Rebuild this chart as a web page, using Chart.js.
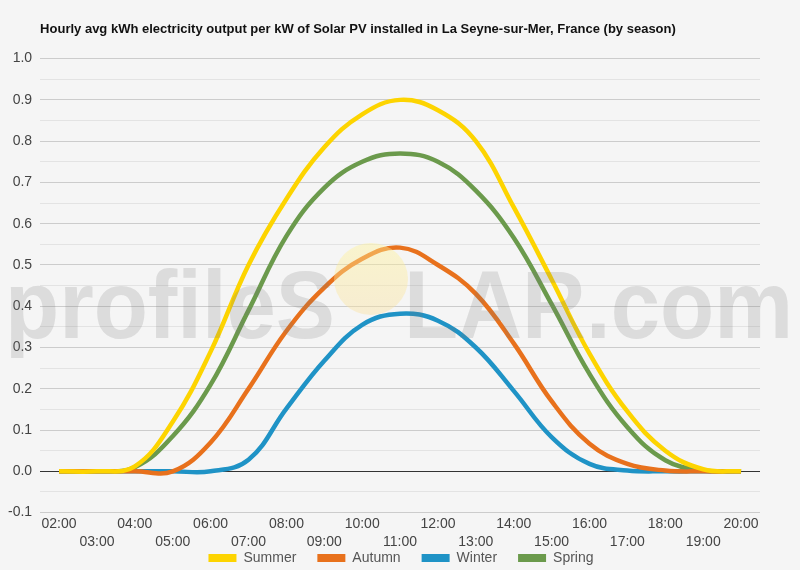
<!DOCTYPE html>
<html>
<head>
<meta charset="utf-8">
<script src="https://cdn.jsdelivr.net/npm/chart.js@4/dist/chart.umd.min.js"></script>
<style>
html,body{margin:0;padding:0;background:#f5f5f5}
#wrap{width:800px;height:570px}
</style>
</head>
<body>
<div id="wrap"><canvas id="solarChart" width="800" height="570"></canvas></div>
<script>
// hours on the x axis
const hours = ["02:00","03:00","04:00","05:00","06:00","07:00","08:00","09:00","10:00","11:00","12:00","13:00","14:00","15:00","16:00","17:00","18:00","19:00","20:00"]

// kWh per kW
const summer = [0,0,0.012,0.12,0.29,0.5,0.66,0.785,0.865,0.9,0.875,0.8,0.64,0.465,0.285,0.145,0.05,0.005,0]
const autumn = [0,0,0,0,0.07,0.2,0.34,0.445,0.515,0.542,0.5,0.43,0.31,0.17,0.067,0.018,0.002,0,0]
const winter = [0,0,0,0,0,0.028,0.152,0.268,0.355,0.382,0.365,0.3,0.195,0.083,0.018,0.002,0,0,0]
const spring = [0,0,0.01,0.085,0.21,0.39,0.57,0.687,0.75,0.77,0.75,0.68,0.566,0.405,0.236,0.107,0.027,0.002,0]

const seasonNames = ["Summer","Autumn","Winter","Spring"]
const seasonColors = ["#fdd400","#e8711c","#1f93c6","#6b9a4c"]

const FONT = "'Liberation Sans', Arial, sans-serif"

// profileSOLAR.com mark over the plot
const watermark = {
id:"watermark",
afterDatasetsDraw(chart){
let ctx=chart.ctx
ctx.save()
ctx.font="bold 96px "+FONT
let part1="profileS", part2="LAR.com"
let w1=ctx.measureText(part1).width
let oW=ctx.measureText("O").width
let w2=ctx.measureText(part2).width
let sx=788/(w1+oW+w2)
ctx.translate(5,312)
ctx.scale(sx,1)
ctx.fillStyle="rgba(120,120,120,0.2)"
ctx.fillText(part1,0,0)
ctx.fillText(part2,w1+oW,0)
ctx.restore()
ctx.save()
let g=ctx.createLinearGradient(0,243,0,315)
g.addColorStop(0,"rgba(255,243,150,0.42)")
g.addColorStop(1,"rgba(250,225,160,0.42)")
ctx.fillStyle=g
ctx.beginPath()
ctx.ellipse(371,279,37,36,0,0,Math.PI*2)
ctx.fill()
ctx.restore()
}
}

// wide gaps between legend items but a short legend box
const legendSpacing = {
id:"legendSpacing",
afterInit(chart){
let lg=chart.legend
let fit=lg.fit
lg.fit=function(){fit.call(this); this.height=17}
let draw=lg.draw
lg.draw=function(){
let t=this.top, l=this.left, r=this.right
this.top=t-23
this.left=l+21
this.right=r+21
draw.call(this)
this.top=t
this.left=l
this.right=r
}
}
}

const datasets = [summer,autumn,winter,spring].map((d,i)=>({
label:seasonNames[i],
data:d,
borderColor:seasonColors[i],
backgroundColor:seasonColors[i],
borderWidth:4.5,
pointRadius:0,
tension:0.4,
fill:false
}))

new Chart(document.getElementById("solarChart"),{
type:"line",
data:{labels:hours,datasets:datasets},
plugins:[watermark,legendSpacing],
options:{
responsive:false,
animation:false,
layout:{padding:{left:0,right:40,top:8,bottom:0}},
plugins:{
title:{
display:true,
text:"Hourly avg kWh electricity output per kW of Solar PV installed in La Seyne-sur-Mer, France (by season)",
align:"start",
fullSize:false,
color:"#111",
font:{family:FONT,size:13,weight:"bold"},
padding:{top:14,bottom:21}
},
legend:{
position:"bottom",
labels:{
boxWidth:28,
boxHeight:8,
padding:21,
color:"#555",
font:{family:FONT,size:14},
generateLabels:function(chart){
return Chart.defaults.plugins.legend.labels.generateLabels(chart).map(l=>Object.assign(l,{lineWidth:0}))
}
}
},
tooltip:{enabled:false}
},
scales:{
x:{
offset:true,
grid:{display:false,drawTicks:false},
border:{display:false},
ticks:{
autoSkip:false,
maxRotation:0,
minRotation:0,
padding:2,
color:"#444",
font:{family:FONT,size:14,lineHeight:1.3},
callback:function(v,i){return i%2 ? ["",hours[i]] : hours[i]}
}
},
y:{
min:-0.1,
max:1.0,
border:{display:false},
grid:{
drawTicks:false,
lineWidth:1,
color:function(c){
let k=Math.round(c.tick.value*100)
if(k===0) return "#333"
if(k%10===0) return "#cccccc"
return "#e3e3e3"
}
},
ticks:{
stepSize:0.05,
padding:8,
color:"#444",
font:{family:FONT,size:14},
callback:function(v){
let k=Math.round(v*100)
return k%10===0 ? (k/100).toFixed(1) : ""
}
}
}
}
}
})
</script>
</body>
</html>
